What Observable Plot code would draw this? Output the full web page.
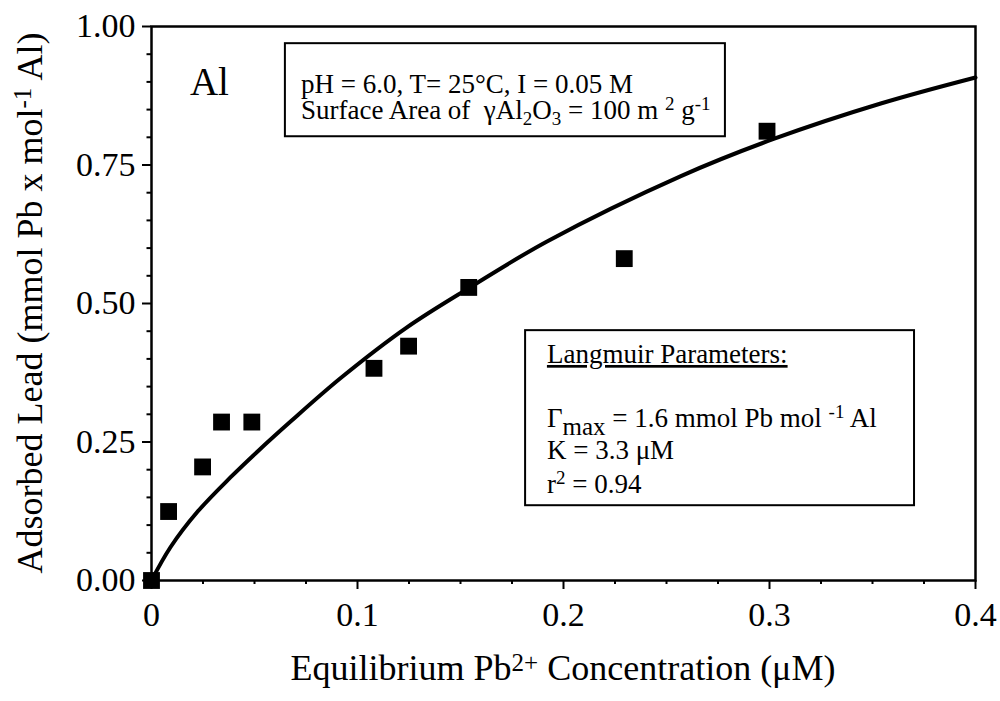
<!DOCTYPE html>
<html>
<head>
<meta charset="utf-8">
<script src="https://cdn.jsdelivr.net/npm/d3@7"></script>
<script src="https://cdn.jsdelivr.net/npm/@observablehq/plot@0.6"></script>
<style>
  html, body { margin: 0; padding: 0; background: #fff; }
  svg { display: block; }
</style>
</head>
<body>
<div id="chart"></div>
<script>
// Measured data (squares)
const concX = [0, 0.0083, 0.0248, 0.034, 0.0487, 0.108, 0.1248, 0.154, 0.2295, 0.2988];
const adsY  = [0, 0.1245, 0.205, 0.286, 0.286, 0.383, 0.423, 0.529, 0.581, 0.811];

// Langmuir fit curve
const fitX = [0, 0.0092, 0.0223, 0.0383, 0.0515, 0.0675, 0.092, 0.124, 0.155, 0.192, 0.257, 0.302, 0.354, 0.40];
const fitY = [0, 0.060, 0.124, 0.186, 0.233, 0.287, 0.366, 0.457, 0.530, 0.612, 0.730, 0.797, 0.861, 0.908];

// Axis ticks
const xTicks = [0, 0.1, 0.2, 0.3, 0.4];
const xTickLabels = ["0", "0.1", "0.2", "0.3", "0.4"];
const xMinor = [0.025, 0.05, 0.075, 0.125, 0.15, 0.175, 0.225, 0.25, 0.275, 0.325, 0.35, 0.375];
const yTicks = [0, 0.25, 0.5, 0.75, 1];
const yTickLabels = ["0.00", "0.25", "0.50", "0.75", "1.00"];
const yMinor = [0.05, 0.1, 0.15, 0.2, 0.3, 0.35, 0.4, 0.45, 0.55, 0.6, 0.65, 0.7, 0.8, 0.85, 0.9, 0.95];

const FONT = "'Liberation Serif', 'Times New Roman', Times, serif";

const points = concX.map((x, i) => ({x, y: adsY[i]}));
const fit = fitX.map((x, i) => ({x, y: fitY[i]}));

// annotation boxes in data coordinates
const boxes = [
  {x1: 0.065, x2: 0.2786, y1: 0.801, y2: 0.969},
  {x1: 0.1816, x2: 0.3704, y1: 0.135, y2: 0.451}
];

const plot = Plot.plot({
  width: 1000,
  height: 701,
  marginLeft: 151,
  marginRight: 25,
  marginTop: 26,
  marginBottom: 121,
  style: {fontFamily: FONT, fontSize: "34px", color: "#000", background: "#fff", overflow: "visible"},
  x: {domain: [0, 0.4], label: null},
  y: {domain: [0, 1], label: null},
  marks: [
    Plot.rect(boxes, {x1: "x1", x2: "x2", y1: "y1", y2: "y2", fill: "#fff", stroke: "#000", strokeWidth: 2}),
    Plot.line(fit, {x: "x", y: "y", curve: "catmull-rom", stroke: "#000", strokeWidth: 4}),
    Plot.dot(points, {x: "x", y: "y", symbol: "square", r: 9.5, fill: "#000", stroke: "none"}),
    Plot.frame({stroke: "#000", strokeWidth: 2.5}),
    Plot.axisX(xMinor, {tickSize: 4, tickFormat: () => "", label: null, strokeWidth: 2}),
    Plot.axisX(xTicks, {tickSize: 9, tickPadding: 12, fontSize: 34, strokeWidth: 2, label: null,
      tickFormat: d => xTickLabels[xTicks.indexOf(d)]}),
    Plot.axisY(yMinor, {tickSize: 4.5, tickFormat: () => "", label: null, strokeWidth: 2}),
    Plot.axisY(yTicks, {tickSize: 9, tickPadding: 7, fontSize: 34, strokeWidth: 2, label: null,
      tickFormat: d => yTickLabels[yTicks.indexOf(d)]})
  ]
});

document.getElementById("chart").appendChild(plot);

// Rich text annotations (super/subscripts) positioned with the plot's scales
const sx = plot.scale("x"), sy = plot.scale("y");
const X = v => sx.apply(v), Y = v => sy.apply(v);
const svg = d3.select(plot);

function rich(parent, parts, attrs) {
  const t = parent.append("text").attr("font-family", FONT).attr("fill", "#000").attr("text-anchor", "start");
  for (const k in attrs) t.attr(k, attrs[k]);
  for (const p of parts) {
    const s = t.append("tspan").text(p.t);
    if (p.size) s.attr("font-size", p.size);
    if (p.dy) s.attr("dy", p.dy);
  }
  return t;
}

// X axis label
rich(svg, [
  {t: "Equilibrium Pb"},
  {t: "2+", size: 25, dy: -9},
  {t: " Concentration (\u03BCM)", size: 36, dy: 9}
], {x: (X(0) + X(0.4)) / 2, y: 680, "text-anchor": "middle", "font-size": 36});

// Y axis label
rich(svg, [
  {t: "Adsorbed Lead (mmol Pb x mol"},
  {t: "-1", size: 25, dy: -11},
  {t: " Al)", size: 36, dy: 11}
], {transform: `translate(42,${(Y(0) + Y(1)) / 2}) rotate(-90)`, "text-anchor": "middle", "font-size": 36});

// Panel label
rich(svg, [{t: "Al"}], {x: X(0.0189), y: Y(0.875), "font-size": 39});

// Box 1 text
rich(svg, [{t: "pH = 6.0, T= 25\u00B0C, I = 0.05 M"}], {x: X(0.0728), y: Y(0.879), "font-size": 27});
rich(svg, [
  {t: "Surface Area of \u00A0\u03B3Al"},
  {t: "2", size: 19, dy: 6},
  {t: "O", size: 27, dy: -6},
  {t: "3", size: 19, dy: 6},
  {t: " = 100 m ", size: 27, dy: -6},
  {t: "2", size: 19, dy: -9},
  {t: " g", size: 27, dy: 9},
  {t: "-1", size: 19, dy: -9}
], {x: X(0.0728), y: Y(0.832), "font-size": 27});

// Box 2 text
rich(svg, [{t: "Langmuir Parameters:"}], {x: X(0.1922), y: Y(0.3917), "font-size": 27, "text-decoration": "underline"});
rich(svg, [
  {t: "\u0393"},
  {t: "max", size: 25, dy: 8},
  {t: " = 1.6 mmol Pb mol ", size: 27, dy: -8},
  {t: "-1", size: 19, dy: -9},
  {t: " Al", size: 27, dy: 9}
], {x: X(0.1922), y: Y(0.2762), "font-size": 27});
rich(svg, [{t: "K = 3.3 \u03BCM"}], {x: X(0.1922), y: Y(0.2184), "font-size": 27});
rich(svg, [
  {t: "r"},
  {t: "2", size: 19, dy: -9},
  {t: " = 0.94", size: 27, dy: 9}
], {x: X(0.1922), y: Y(0.157), "font-size": 27});
</script>
</body>
</html>
